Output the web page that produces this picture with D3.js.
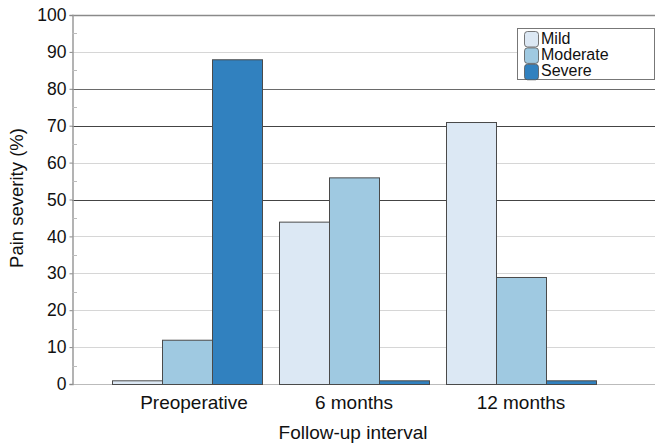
<!DOCTYPE html>
<html><head><meta charset="utf-8">
<script src="https://cdn.jsdelivr.net/npm/d3@7"></script>
<style>body{margin:0;background:#fff}svg{display:block;font-family:"Liberation Sans",Arial,Helvetica,sans-serif}</style>
</head><body><svg id="c" width="659" height="446"></svg>
<script>
const categories = ["Preoperative", "6 months", "12 months"];
const seriesNames = ["Mild", "Moderate", "Severe"];
const mild = [1, 44, 71];
const moderate = [12, 56, 29];
const severe = [88, 1, 1];
const yTicks = [0, 10, 20, 30, 40, 50, 60, 70, 80, 90, 100];
const colors = ["#dce8f4", "#9fc9e1", "#3181bf"];

const series = [mild, moderate, severe];
const svg = d3.select("#c");
const plotLeft = 72, plotRight = 655, plotTop = 15, plotBottom = 384;

const y = d3.scaleLinear().domain([0, 100]).range([plotBottom, plotTop]);
const x0 = d3.scaleBand().domain(categories).range([103.5, 604.5])
  .paddingInner(17/167).paddingOuter(17/167/2);
const x1 = d3.scaleBand().domain(seriesNames).range([0, x0.bandwidth()]);

// gridlines
const gridColor = v => v === 100 ? "#8a8a8a" : (v === 80 ? "#6a6a6a" : (v === 70 || v === 50) ? "#444" : (v === 0 ? "#bbb" : "#d6d6d6"));
svg.append("g").selectAll("line").data(yTicks).join("line")
  .attr("x1", plotLeft).attr("x2", plotRight)
  .attr("y1", d => Math.round(y(d)) + 0.5).attr("y2", d => Math.round(y(d)) + 0.5)
  .attr("stroke", d => gridColor(d)).attr("stroke-width", d => d === 100 ? 1.5 : 1);

// y axis
const yAxis = d3.axisLeft(y).tickValues(yTicks).tickSize(3).tickPadding(3);
const ga = svg.append("g").attr("transform", `translate(${plotLeft + 0.5},0)`).call(yAxis);
ga.select(".domain").attr("stroke", "#9a9a9a").attr("stroke-width", 1.5);
ga.selectAll(".tick line").attr("stroke", "#888");
ga.selectAll(".tick text").attr("font-size", 17.5).attr("fill", "#111")
  .attr("font-family", "Liberation Sans, Arial, sans-serif");
// minor ticks
const minor = d3.range(5, 100, 10);
svg.append("g").selectAll("line").data(minor).join("line")
  .attr("x1", plotLeft).attr("x2", plotLeft + 5)
  .attr("y1", d => Math.round(y(d)) + 0.5).attr("y2", d => Math.round(y(d)) + 0.5)
  .attr("stroke", "#bbb");

// bars
const groups = svg.append("g").selectAll("g").data(categories).join("g")
  .attr("transform", d => `translate(${x0(d)},0)`);
groups.selectAll("rect").data((d, i) => seriesNames.map((s, j) => ({s, j, v: series[j][i]})))
  .join("rect")
  .attr("x", d => x1(d.s) + 0.5)
  .attr("width", x1.bandwidth())
  .attr("y", d => y(d.v) + 0.5)
  .attr("height", d => y(0) - y(d.v))
  .attr("fill", d => colors[d.j])
  .attr("stroke", "#4a4a4a").attr("stroke-width", 1);

// x labels
svg.append("g").selectAll("text").data(categories).join("text")
  .attr("x", d => x0(d) + x0.bandwidth()/2 + (d === "Preoperative" ? 7 : 0))
  .attr("y", 409).attr("text-anchor", "middle")
  .attr("font-size", 19).attr("fill", "#111").text(d => d);

svg.append("text").attr("x", 353).attr("y", 439).attr("text-anchor", "middle")
  .attr("font-size", 19).attr("fill", "#111").text("Follow-up interval");

svg.append("text").attr("transform", "translate(23,198) rotate(-90)")
  .attr("text-anchor", "middle").attr("font-size", 18.5).attr("fill", "#111")
  .text("Pain severity (%)");

// legend
const lg = svg.append("g");
lg.append("rect").attr("x", 517.5).attr("y", 28.5).attr("width", 137).attr("height", 51)
  .attr("fill", "#fff").attr("stroke", "#777").attr("stroke-width", 1);
const rows = lg.selectAll("g.r").data(seriesNames).join("g").attr("class", "r")
  .attr("transform", (d, i) => `translate(524,${31 + i * 16.4})`);
rows.append("rect").attr("x", 0.5).attr("y", 0.5).attr("width", 14).attr("height", 15.5)
  .attr("rx", 3).attr("fill", (d, i) => colors[i]).attr("stroke", "#555").attr("stroke-width", 0.8);
rows.append("text").attr("x", 17).attr("y", 12.5).attr("font-size", 16).attr("fill", "#111").text(d => d);
</script></body></html>
